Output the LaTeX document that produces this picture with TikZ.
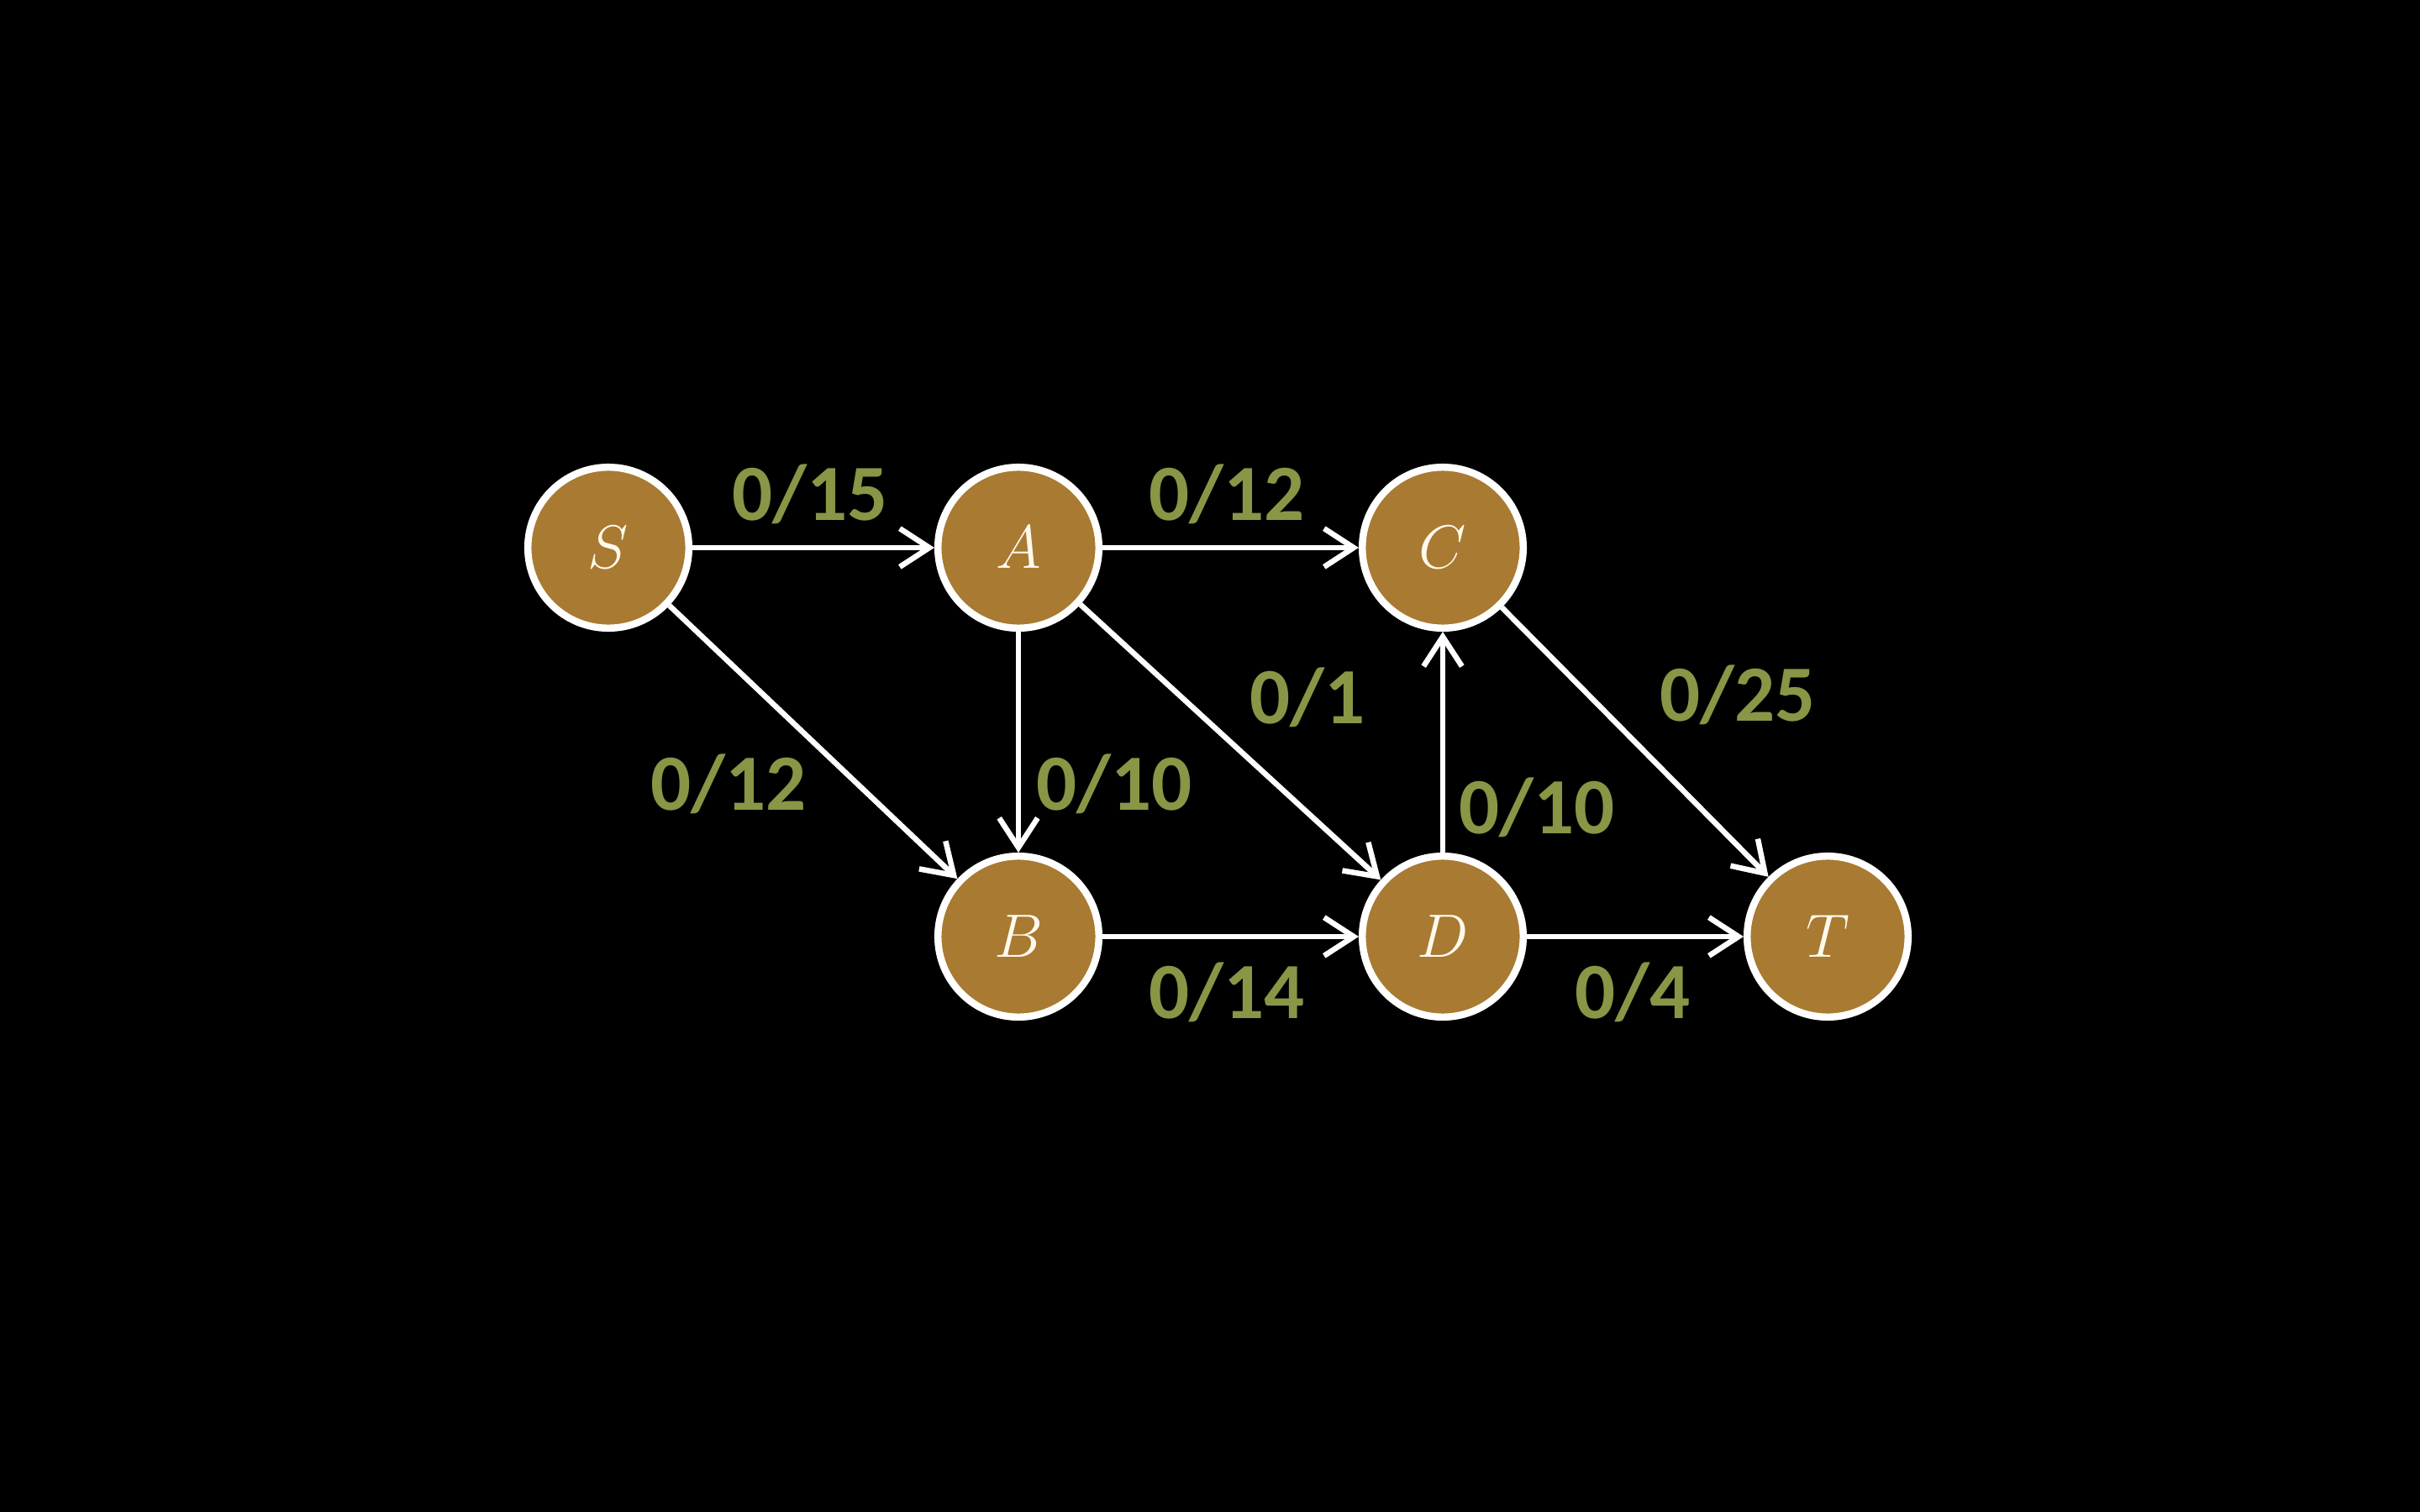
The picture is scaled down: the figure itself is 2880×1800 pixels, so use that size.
\documentclass[tikz,border=0pt]{standalone}
\usepackage{fontspec}
\newfontfamily\labfont{Carlito}
\usetikzlibrary{arrows.meta}
\definecolor{nodefill}{RGB}{168,122,50}
\definecolor{labcol}{RGB}{136,150,70}
\definecolor{letcol}{RGB}{255,250,236}
\tikzset{
  vert/.style={circle, draw=white, fill=nodefill, line width=8.5*0.2845pt,
    minimum size=1.915cm, inner sep=0pt, text=letcol,
    font=\fontsize{20}{22}\selectfont},
  edge/.style={draw=white, line width=6.5*0.2845pt,
    -{Straight Barb[length=10pt,width=13pt]}},
  flowlab/.style={text=labcol, font=\labfont\bfseries\fontsize{27}{30}\selectfont, inner sep=0pt}
}
\begin{document}
\begin{tikzpicture}[x=0.01cm,y=-0.01cm]
\fill[black] (0,0) rectangle (2880,1800);
\useasboundingbox (0,0) rectangle (2880,1800);
\node[vert] (S) at (724,652) {$S$};
\node[vert] (A) at (1212,652) {$A$};
\node[vert] (C) at (1717,652) {$C$};
\node[vert] (B) at (1212,1115) {$B$};
\node[vert] (D) at (1717,1115) {$D$};
\node[vert] (T) at (2175,1115) {$T$};
\draw[edge] (S) -- (A);
\draw[edge] (A) -- (C);
\draw[edge] (S) -- (B);
\draw[edge] (A) -- (B);
\draw[edge] (A) -- (D);
\draw[edge] (B) -- (D);
\draw[edge] (D) -- (C);
\draw[edge] (D) -- (T);
\draw[edge] (C) -- (T);
\node[flowlab] (lSA) at (964,588) {0/15};
\node[flowlab] (lAC) at (1460,588) {0/12};
\node[flowlab] (lSB) at (867,933) {0/12};
\node[flowlab] (lAB) at (1326,933) {0/10};
\node[flowlab] (lAD) at (1556,830) {0/1};
\node[flowlab] (lCT) at (2068,827) {0/25};
\node[flowlab] (lDC) at (1829,961) {0/10};
\node[flowlab] (lBD) at (1460,1181) {0/14};
\node[flowlab] (lDT) at (1943,1181) {0/4};
\end{tikzpicture}
\end{document}
